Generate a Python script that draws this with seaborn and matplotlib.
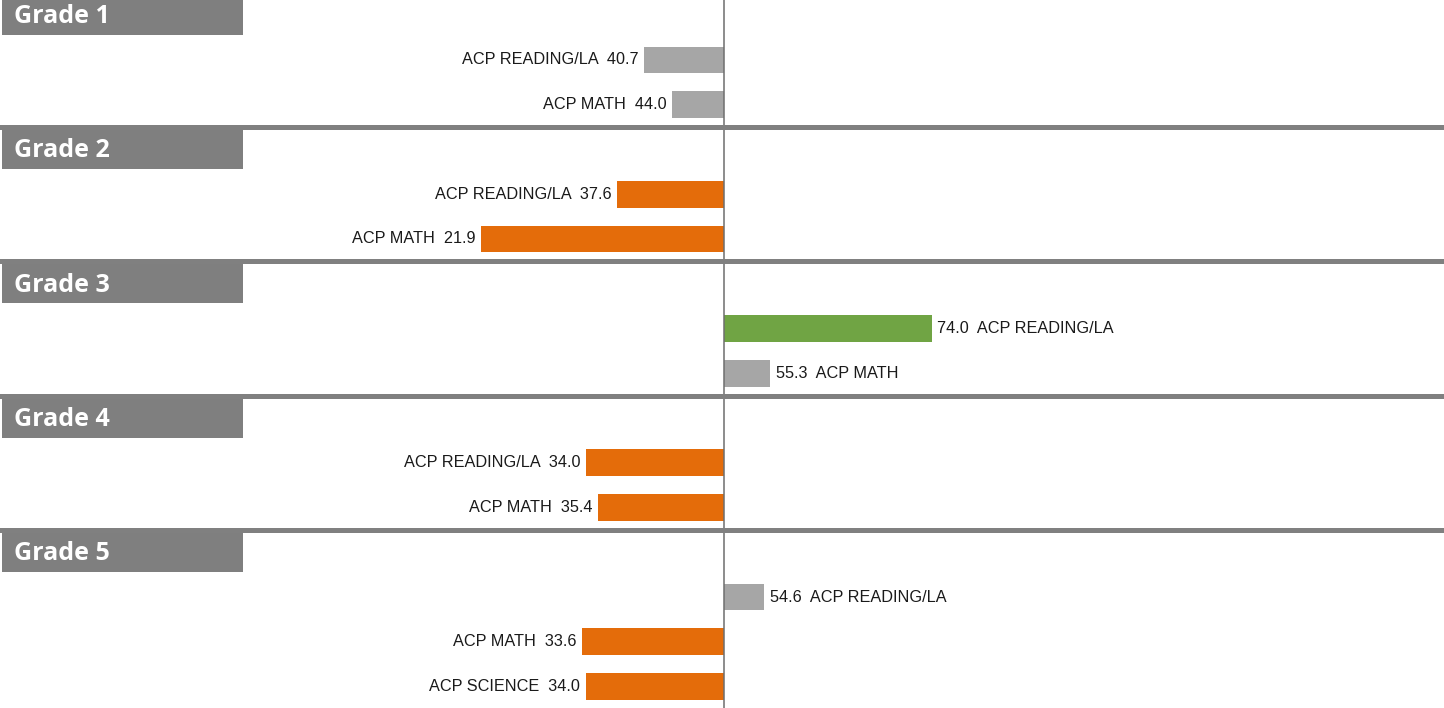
import pandas as pd
import seaborn as sns
import matplotlib.pyplot as plt
from matplotlib.patches import Rectangle
import matplotlib.transforms as mtransforms

# Data (centre line = 50)
grades = ["Grade 1", "Grade 2", "Grade 3", "Grade 4", "Grade 5"]
subjects = [
    ["ACP READING/LA", "ACP MATH"],
    ["ACP READING/LA", "ACP MATH"],
    ["ACP READING/LA", "ACP MATH"],
    ["ACP READING/LA", "ACP MATH"],
    ["ACP READING/LA", "ACP MATH", "ACP SCIENCE"],
]
scores = [
    [40.7, 44.0],
    [37.6, 21.9],
    [74.0, 55.3],
    [34.0, 35.4],
    [54.6, 33.6, 34.0],
]
# status: "above", "below", "same"
status = [
    ["same", "same"],
    ["below", "below"],
    ["above", "same"],
    ["below", "below"],
    ["same", "below", "below"],
]
center = 50

status_colors = {"above": "#70a444", "below": "#e46c0a", "same": "#a6a6a6"}

# build the row layout: header row, then one row per subject
order = []
header_rows = []
records = []
for g, subs, vals, sts in zip(grades, subjects, scores, status):
    header_rows.append(len(order))
    order.append(g)
    for s, v, st in zip(subs, vals, sts):
        key = f"{g}|{s}"
        order.append(key)
        records.append({"row": key, "subject": s, "score": v,
                        "diff": v - center, "color": status_colors[st]})
df = pd.DataFrame(records)
palette = dict(zip(df["row"], df["color"]))

fig = plt.figure(figsize=(14.44, 7.08), dpi=100)
ax = fig.add_axes([0, 0, 1, 1])

sns.barplot(data=df, x="diff", y="row", hue="row", order=order,
            palette=palette, legend=False, width=0.6, saturation=1,
            orient="h", ax=ax)

ax.set_xlim(-83.7, 83.2)
ax.set_ylim(15.48, -0.34)
ax.set_axis_off()

# centre line
ax.axvline(0, color="#6e6e6e", lw=1.1, zorder=3)

# grade header boxes and separators
trans = mtransforms.blended_transform_factory(ax.transAxes, ax.transData)
for i, idx in enumerate(header_rows):
    ax.add_patch(Rectangle((2 / 1444, idx - 0.46), 241 / 1444, 0.9,
                           transform=trans, color="#7f7f7f", lw=0, zorder=2))
    ax.text(14 / 1444, idx + 0.175, grades[i], transform=trans, color="white",
            fontsize=18, fontweight="bold", family="Open Sans",
            ha="left", va="baseline", zorder=4)
    if idx > 0:
        ax.axhline(idx - 0.5, color="#808080", lw=3.6, zorder=3)

# value labels
for _, r in df.iterrows():
    y = order.index(r["row"])
    if r["diff"] < 0:
        txt = f"{r['subject']}  {r['score']:.1f}"
        ax.annotate(txt, xy=(r["diff"], y), xytext=(-4, 0),
                    textcoords="offset points", ha="right", va="center",
                    fontsize=11.7, family="Liberation Sans", color="#1a1a1a")
    else:
        txt = f"{r['score']:.1f}  {r['subject']}"
        ax.annotate(txt, xy=(r["diff"], y), xytext=(4, 0),
                    textcoords="offset points", ha="left", va="center",
                    fontsize=11.7, family="Liberation Sans", color="#1a1a1a")

fig.savefig("out.png", dpi=100)
